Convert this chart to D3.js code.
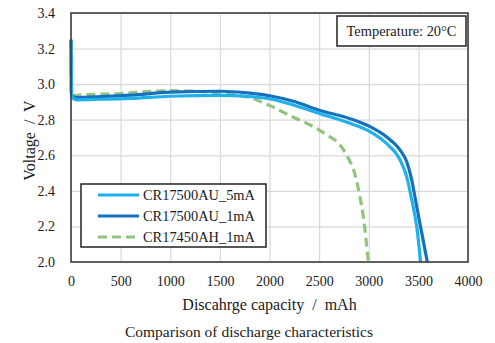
<!DOCTYPE html>
<html>
<head>
<meta charset="utf-8">
<script src="https://cdn.jsdelivr.net/npm/d3@7"></script>
<style>
  body { margin: 0; background: #fff; }
  text { font-family: "Liberation Serif", "Times New Roman", serif; fill: #1a1a1a; }
</style>
</head>
<body>
<div id="chart"></div>
<script>
// capacity (mAh), voltage (V)
const cr17500au5mA = [
  [0, 3.25], [4, 2.95], [20, 2.92], [60, 2.912], [300, 2.915], [600, 2.92],
  [1000, 2.932], [1500, 2.937], [1804, 2.93], [2000, 2.918], [2240, 2.883],
  [2509, 2.834], [2811, 2.78], [3013, 2.733], [3181, 2.665],
  [3315, 2.574], [3382, 2.48], [3433, 2.35], [3483, 2.2], [3523, 2.0]
];
const cr17500au1mA = [
  [0, 3.25], [4, 2.95], [20, 2.928], [60, 2.925], [300, 2.93], [600, 2.938],
  [1000, 2.955], [1500, 2.96], [1804, 2.949], [2000, 2.935], [2240, 2.904],
  [2509, 2.852], [2811, 2.806], [3013, 2.761], [3181, 2.703], [3315, 2.63],
  [3382, 2.565], [3433, 2.462], [3483, 2.312], [3534, 2.164], [3590, 2.0]
];
const cr17450ah1mA = [
  [0, 3.25], [4, 2.95], [20, 2.935], [100, 2.94], [500, 2.947], [800, 2.96],
  [1000, 2.963], [1500, 2.95], [1804, 2.924], [2005, 2.879], [2207, 2.823],
  [2408, 2.771], [2576, 2.715], [2710, 2.658], [2794, 2.584], [2862, 2.49],
  [2910, 2.37], [2945, 2.256], [2996, 2.0]
];

const seriesNames = ['CR17500AU_5mA', 'CR17500AU_1mA', 'CR17450AH_1mA'];
const xTicks = [0, 500, 1000, 1500, 2000, 2500, 3000, 3500, 4000];
const yTicks = [2.0, 2.2, 2.4, 2.6, 2.8, 3.0, 3.2, 3.4];

const width = 495, height = 343;
const margin = { top: 13, right: 27, bottom: 81, left: 71 };
const graphWidth = width - margin.left - margin.right;
const graphHeight = height - margin.top - margin.bottom;

const svg = d3.select('#chart').append('svg')
  .attr('width', width).attr('height', height);
const graph = svg.append('g').attr('transform', `translate(${margin.left},${margin.top})`);

const xScale = d3.scaleLinear().domain([0, 4000]).range([0, graphWidth]);
const yScale = d3.scaleLinear().domain([2.0, 3.4]).range([graphHeight, 0]);

// grid
graph.append('g')
  .call(d3.axisBottom(xScale).tickValues(xTicks).tickSize(graphHeight).tickFormat(''))
  .call(g => g.select('.domain').remove())
  .call(g => g.selectAll('line').attr('stroke', '#d9d9d9').attr('stroke-width', 1.2));
graph.append('g')
  .call(d3.axisLeft(yScale).tickValues(yTicks).tickSize(-graphWidth).tickFormat(''))
  .call(g => g.select('.domain').remove())
  .call(g => g.selectAll('line').attr('stroke', '#d9d9d9').attr('stroke-width', 1.2));

// tick labels
graph.append('g')
  .attr('transform', `translate(0,${graphHeight})`)
  .call(d3.axisBottom(xScale).tickValues(xTicks).tickSize(0).tickPadding(14).tickFormat(d3.format('d')))
  .call(g => g.select('.domain').remove())
  .call(g => g.selectAll('text').attr('font-size', 14));
graph.append('g')
  .call(d3.axisLeft(yScale).tickValues(yTicks).tickSize(0).tickPadding(16).tickFormat(d3.format('.1f')))
  .call(g => g.select('.domain').remove())
  .call(g => g.selectAll('text').attr('font-size', 14));

// lines
const line = d3.line()
  .x(d => xScale(d[0]))
  .y(d => yScale(d[1]))
  .curve(d3.curveMonotoneX);

const series = [
  { name: seriesNames[0], data: cr17500au5mA, color: '#1fb1ec', dash: null },
  { name: seriesNames[1], data: cr17500au1mA, color: '#1670bd', dash: null },
  { name: seriesNames[2], data: cr17450ah1mA, color: '#93c47d', dash: '9,5' }
];

graph.selectAll('path.series')
  .data(series.slice().reverse())
  .enter().append('path')
  .attr('class', 'series')
  .attr('d', d => line(d.data))
  .attr('fill', 'none')
  .attr('stroke', d => d.color)
  .attr('stroke-width', 3.2)
  .attr('stroke-dasharray', d => d.dash);

// frame
graph.append('rect')
  .attr('width', graphWidth).attr('height', graphHeight)
  .attr('fill', 'none').attr('stroke', '#333').attr('stroke-width', 1.5);

// temperature box
const tb = graph.append('g').attr('transform', `translate(${337 - margin.left},${16 - margin.top})`);
tb.append('rect').attr('width', 129).attr('height', 30)
  .attr('fill', '#fff').attr('stroke', '#222').attr('stroke-width', 1.5);
tb.append('text').attr('x', 64.5).attr('y', 20).attr('text-anchor', 'middle')
  .attr('font-size', 14.4).text('Temperature: 20\u00B0C');

// legend
const lg = graph.append('g').attr('transform', `translate(${81 - margin.left},${184 - margin.top})`);
lg.append('rect').attr('width', 185).attr('height', 63)
  .attr('fill', '#fff').attr('stroke', '#222').attr('stroke-width', 1.5);
const items = lg.selectAll('g.item').data(series).enter().append('g')
  .attr('class', 'item')
  .attr('transform', (d, i) => `translate(0,${11 + i * 21})`);
items.append('line')
  .attr('x1', 17).attr('x2', 58)
  .attr('stroke', d => d.color).attr('stroke-width', 3)
  .attr('stroke-dasharray', d => d.dash);
items.append('text')
  .attr('x', 62).attr('dy', '0.35em')
  .attr('font-size', 14.4).text(d => d.name);

// titles
svg.append('text')
  .attr('x', margin.left + graphWidth / 2).attr('y', 310)
  .attr('text-anchor', 'middle').attr('font-size', 16)
  .attr('xml:space', 'preserve')
  .text('Discahrge capacity  /  mAh');
svg.append('text')
  .attr('transform', `translate(29,${margin.top + graphHeight / 2 + 3}) rotate(-90)`)
  .attr('text-anchor', 'middle').attr('dy', '0.35em').attr('font-size', 16)
  .attr('xml:space', 'preserve')
  .text('Voltage  /  V');
svg.append('text')
  .attr('x', 249).attr('y', 337)
  .attr('text-anchor', 'middle').attr('font-size', 15.5)
  .text('Comparison of discharge characteristics');
</script>
</body>
</html>
